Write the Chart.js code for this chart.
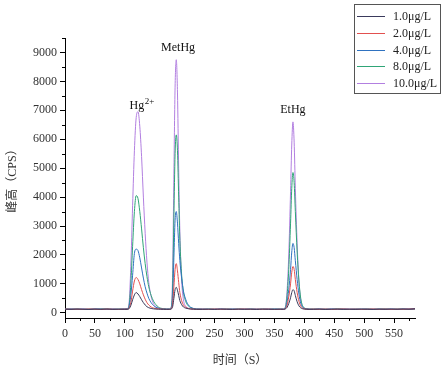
<!DOCTYPE html>
<html>
<head>
<meta charset="utf-8">
<script src="https://cdn.jsdelivr.net/npm/chart.js@4"></script>
<style>
  html, body { margin: 0; padding: 0; background: #fff; }
  #wrap { width: 445px; height: 371px; }
</style>
</head>
<body>
<div id="wrap"><canvas id="chromChart" width="445" height="371"></canvas></div>
<script>
// retention time (s)
const times = [
  0, 10, 20, 30, 40, 50, 60, 70, 80, 90, 100,
  104, 107, 110, 113, 116, 119, 122, 125, 128, 131, 134, 137, 140, 144, 148, 152, 156, 160, 165, 170,
  175, 178, 180, 182, 184, 186, 188, 190, 192, 195, 198, 202, 206, 210, 215, 220,
  230, 240, 250, 260, 270, 280, 290, 300, 310, 320, 330, 340, 350, 360,
  365, 368, 371, 374, 377, 379, 381, 383, 385, 388, 391, 394, 397, 400, 404, 408,
  415, 425, 435, 445, 455, 465, 475, 485, 495, 505, 515, 525, 535, 545, 555, 565, 575, 585
];

const labels = ["1.0μg/L", "2.0μg/L", "4.0μg/L", "8.0μg/L", "10.0μg/L"];

// peak height (CPS) per concentration
const s1 = [
  125, 118, 130, 122, 115, 127, 120, 132, 118, 124, 121,
  120, 140, 250, 450, 620, 700, 650, 560, 450, 350, 270, 210, 175, 150, 135, 128, 125, 122, 120, 118,
  120, 135, 220, 500, 800, 880, 780, 600, 420, 280, 200, 160, 140, 130, 125, 120,
  120, 126, 118, 131, 122, 117, 128, 121, 125, 116, 129, 122, 119, 124,
  120, 130, 180, 320, 520, 700, 800, 760, 600, 380, 240, 170, 140, 128, 122, 120,
  121, 128, 116, 124, 130, 119, 123, 117, 127, 122, 118, 126, 120, 129, 123, 131, 125, 140
];
const s2 = [
  128, 121, 126, 119, 131, 124, 117, 129, 123, 120, 126,
  125, 160, 350, 750, 1100, 1220, 1150, 1000, 800, 620, 470, 350, 270, 200, 165, 145, 135, 130, 125, 120,
  120, 150, 330, 900, 1500, 1700, 1450, 1050, 700, 420, 270, 190, 150, 135, 125, 120,
  124, 119, 129, 121, 127, 118, 125, 130, 120, 126, 122, 128, 117, 123,
  120, 140, 250, 550, 1000, 1400, 1600, 1500, 1150, 700, 400, 230, 160, 135, 125, 120,
  126, 120, 129, 118, 125, 131, 122, 127, 119, 124, 130, 121, 128, 118, 126, 122, 129, 135
];
const s4 = [
  122, 130, 119, 127, 121, 133, 124, 118, 129, 122, 128,
  130, 200, 600, 1300, 2050, 2200, 2150, 1900, 1550, 1200, 900, 680, 500, 350, 250, 190, 160, 140, 130, 125,
  125, 180, 600, 1900, 3200, 3500, 3100, 2400, 1800, 1200, 750, 450, 280, 190, 150, 130,
  127, 122, 118, 130, 124, 129, 119, 126, 123, 131, 118, 125, 128, 122,
  125, 150, 350, 800, 1500, 2100, 2400, 2250, 1800, 1150, 650, 330, 200, 150, 130, 125,
  119, 127, 123, 131, 118, 126, 124, 129, 121, 127, 117, 130, 123, 125, 119, 128, 124, 138
];
const s8 = [
  130, 123, 128, 117, 126, 120, 131, 125, 119, 127, 124,
  135, 250, 1000, 2300, 3500, 4050, 3950, 3500, 2900, 2250, 1700, 1250, 900, 600, 400, 280, 200, 160, 140, 130,
  130, 220, 1000, 3300, 5500, 6150, 5600, 4000, 2500, 1300, 700, 380, 240, 180, 145, 130,
  121, 128, 124, 117, 130, 123, 127, 120, 129, 119, 126, 121, 130, 125,
  125, 170, 550, 1500, 3100, 4300, 4850, 4500, 3500, 2100, 1100, 500, 250, 170, 140, 125,
  128, 122, 126, 119, 132, 124, 118, 127, 123, 129, 121, 126, 131, 120, 127, 124, 118, 133
];
const s10 = [
  119, 127, 122, 131, 118, 125, 129, 121, 126, 117, 130,
  140, 320, 1600, 3700, 5600, 6750, 6950, 6450, 5400, 4000, 2750, 1750, 1050, 560, 320, 210, 165, 145, 135, 130,
  130, 250, 1500, 4800, 7800, 8750, 7600, 5000, 2800, 1100, 450, 220, 160, 140, 130, 125,
  126, 120, 131, 123, 119, 128, 122, 125, 130, 118, 124, 129, 121, 127,
  125, 180, 700, 2000, 4200, 5800, 6600, 5900, 4300, 2400, 1100, 450, 220, 160, 135, 125,
  123, 129, 118, 126, 121, 130, 125, 119, 128, 122, 127, 117, 125, 130, 121, 126, 129, 136
];

const xTicks = [0, 50, 100, 150, 200, 250, 300, 350, 400, 450, 500, 550];
const yTicks = [0, 1000, 2000, 3000, 4000, 5000, 6000, 7000, 8000, 9000];

const series = [s1, s2, s4, s8, s10];
const colors = ["#3a3a5c", "#e2504f", "#2f72c0", "#2fa577", "#b27fe0"];

const serif = "Liberation Serif, Noto Sans CJK SC, serif";

// minor ticks, legend box and peak labels
const extras = {
  id: "extras",
  afterDraw(chart) {
    const { ctx, chartArea, scales } = chart;
    const xs = scales.x, ys = scales.y;
    ctx.save();
    ctx.strokeStyle = "#000";
    ctx.lineWidth = 1;
    ctx.beginPath();
    for (let v = 25; v < 585; v += 50) {
      const px = Math.round(xs.getPixelForValue(v)) + 0.5;
      ctx.moveTo(px, chartArea.bottom);
      ctx.lineTo(px, chartArea.bottom + 3);
    }
    for (let v = 500; v <= 9500; v += 1000) {
      const py = Math.round(ys.getPixelForValue(v)) + 0.5;
      ctx.moveTo(chartArea.left, py);
      ctx.lineTo(chartArea.left - 3, py);
    }
    ctx.stroke();

    // legend
    ctx.strokeStyle = "#555";
    ctx.strokeRect(354.5, 4.5, 86, 89);
    ctx.font = "12px " + serif;
    ctx.textBaseline = "middle";
    ctx.textAlign = "left";
    chart.data.datasets.forEach((ds, i) => {
      const y = Math.round(16 + i * 16.8) + 0.5;
      ctx.strokeStyle = ds.borderColor;
      ctx.beginPath();
      ctx.moveTo(357, y);
      ctx.lineTo(385, y);
      ctx.stroke();
      ctx.fillStyle = "#222";
      ctx.fillText(ds.label, 393, y);
    });

    // peak labels
    ctx.fillStyle = "#111";
    ctx.textBaseline = "alphabetic";
    ctx.font = "12px " + serif;
    const hx = xs.getPixelForValue(108), hy = ys.getPixelForValue(7050);
    ctx.fillText("Hg", hx, hy);
    const hw = ctx.measureText("Hg").width;
    ctx.font = "9px " + serif;
    ctx.fillText("2+", hx + hw + 0.5, hy - 5);
    ctx.font = "12px " + serif;
    ctx.textAlign = "center";
    ctx.fillText("MetHg", xs.getPixelForValue(189), ys.getPixelForValue(9050));
    ctx.fillText("EtHg", xs.getPixelForValue(381), ys.getPixelForValue(6900));
    ctx.restore();
  }
};

const ctx = document.getElementById("chromChart").getContext("2d");

new Chart(ctx, {
  type: "line",
  data: {
    datasets: series.map((vals, i) => ({
      label: labels[i],
      data: times.map((t, j) => ({ x: t, y: vals[j] })),
      borderColor: colors[i],
      borderWidth: 1,
      pointRadius: 0,
      fill: false,
      cubicInterpolationMode: "monotone",
    })),
  },
  options: {
    responsive: false,
    devicePixelRatio: 1,
    animation: false,
    layout: { padding: { top: 38, right: 30, left: 0, bottom: 0 } },
    plugins: {
      legend: { display: false },
      tooltip: { enabled: false },
    },
    scales: {
      x: {
        type: "linear",
        min: 0,
        max: 585,
        afterFit: (s) => { s.height = 53; },
        afterBuildTicks: (s) => { s.ticks = xTicks.map((v) => ({ value: v })); },
        ticks: {
          font: { family: serif, size: 12 },
          color: "#333",
          padding: 4,
          maxRotation: 0,
          callback: (v) => String(v),
        },
        grid: { drawOnChartArea: false, tickLength: 5, color: "#000" },
        border: { color: "#000", width: 1 },
        title: {
          display: true,
          text: "时间（S）",
          font: { family: serif, size: 12 },
          color: "#333",
          padding: { top: 0, bottom: 3 },
        },
      },
      y: {
        min: -180,
        max: 9500,
        afterFit: (s) => { s.width = 65; },
        afterBuildTicks: (s) => { s.ticks = yTicks.map((v) => ({ value: v })); },
        ticks: {
          font: { family: serif, size: 12 },
          color: "#333",
          padding: 3,
          callback: (v) => String(v),
        },
        grid: { drawOnChartArea: false, tickLength: 5, color: "#000" },
        border: { color: "#000", width: 1 },
        title: {
          display: true,
          text: "峰高（CPS）",
          font: { family: serif, size: 12 },
          color: "#333",
          padding: { top: 6, bottom: 0 },
        },
      },
    },
  },
  plugins: [extras],
});
</script>
</body>
</html>
